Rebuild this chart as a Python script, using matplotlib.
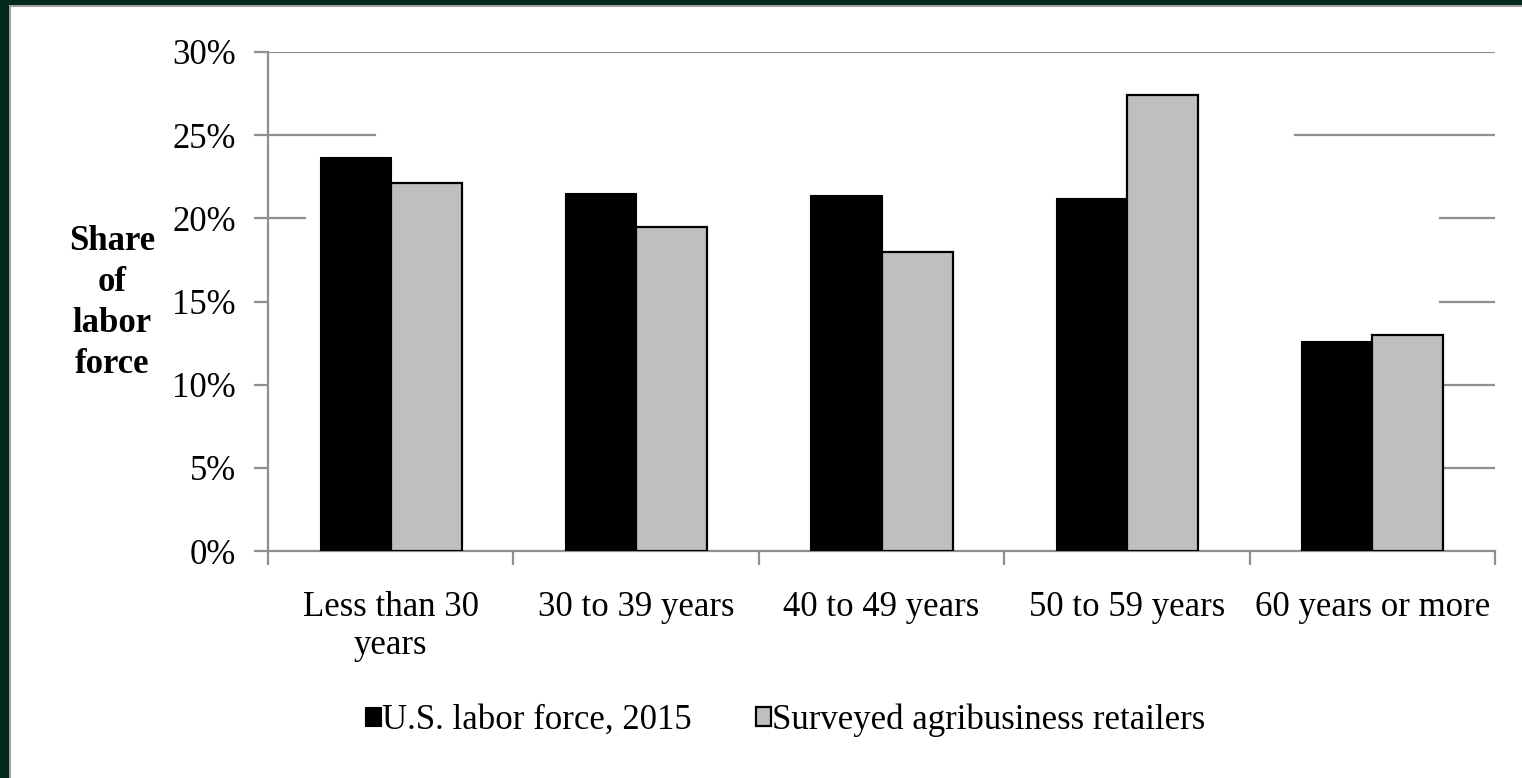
import matplotlib
matplotlib.use("Agg")
import matplotlib.pyplot as plt
from matplotlib.patches import Rectangle
from matplotlib.ticker import PercentFormatter
import numpy as np

# --- data -------------------------------------------------------------
age_groups = ["Less than 30\nyears", "30 to 39 years", "40 to 49 years",
              "50 to 59 years", "60 years or more"]
us_labor_force = [23.7, 21.5, 21.4, 21.2, 12.6]
agri_retailers = [22.1, 19.5, 18.0, 27.4, 13.0]
series_names = ["U.S. labor force, 2015", "Surveyed agribusiness retailers"]
y_ticks = [0, 5, 10, 15, 20, 25, 30]

# --- style ------------------------------------------------------------
plt.rcParams["font.family"] = ["Liberation Serif", "DejaVu Serif"]
FS = 25
AXIS_GREY = "#8f8f8f"
FRAME_GREEN = "#03291d"

fig = plt.figure(figsize=(15.22, 7.78), dpi=100)
fig.patch.set_facecolor("white")

# slide-style frame: dark green band along the top and left edges
fig.patches.append(Rectangle((0, 1 - 5 / 778), 1, 5 / 778, transform=fig.transFigure,
                             facecolor=FRAME_GREEN, edgecolor="none", zorder=0))
fig.patches.append(Rectangle((0, 0), 9 / 1522, 1, transform=fig.transFigure,
                             facecolor=FRAME_GREEN, edgecolor="none", zorder=0))
fig.patches.append(Rectangle((9 / 1522, 0), 2 / 1522, 1 - 5 / 778, transform=fig.transFigure,
                             facecolor="#a0a0a0", edgecolor="none", zorder=0))
fig.patches.append(Rectangle((9 / 1522, 1 - 7 / 778), 1 - 9 / 1522, 2 / 778,
                             transform=fig.transFigure,
                             facecolor="#a0a0a0", edgecolor="none", zorder=0))

ax = fig.add_axes([268 / 1522, 1 - 551 / 778, (1495 - 268) / 1522, (551 - 52) / 778])

x = np.arange(len(age_groups))
w = 0.29
b1 = ax.bar(x - w / 2, us_labor_force, width=w, color="black", edgecolor="black",
            linewidth=0.8, zorder=3, label=series_names[0])
b2 = ax.bar(x + w / 2, agri_retailers, width=w, color="#bfbfbf", edgecolor="black",
            linewidth=1.6, zorder=3, label=series_names[1])

ax.set_xlim(-0.5, len(age_groups) - 0.5)
ax.set_ylim(0, 30)
ax.set_yticks(y_ticks)
ax.yaxis.set_major_formatter(PercentFormatter(decimals=0))

# horizontal gridlines, only partially visible behind the clustered bars
grid_spans = {
    30: [(0.0, 1.0)],
    25: [(0.0, 0.087), (0.837, 1.0)],
    20: [(0.0, 0.030), (0.955, 1.0)],
    15: [(0.955, 1.0)],
    10: [(0.955, 1.0)],
    5: [(0.955, 1.0)],
}
for yv, spans in grid_spans.items():
    for a, b in spans:
        ax.axhline(yv, xmin=a, xmax=b, color=AXIS_GREY, linewidth=1.6, zorder=1)

# category labels centred, tick marks at category boundaries
ax.set_xticks(x)
ax.set_xticklabels(age_groups, fontsize=FS, linespacing=1.2)
ax.set_xticks(np.arange(len(age_groups) + 1) - 0.5, minor=True)
ax.tick_params(axis="x", which="major", length=0, pad=29)
ax.tick_params(axis="x", which="minor", length=10, width=1.6, color=AXIS_GREY,
               direction="out")
ax.tick_params(axis="y", length=10, width=1.6, color=AXIS_GREY, labelsize=FS, pad=13)

for side in ("top", "right"):
    ax.spines[side].set_visible(False)
for side in ("left", "bottom"):
    ax.spines[side].set_color(AXIS_GREY)
    ax.spines[side].set_linewidth(1.6)

fig.text(112 / 1522, 1 - 303 / 778, "Share\nof\nlabor\nforce", fontsize=FS,
         fontweight="bold", ha="center", va="center", linespacing=1.32)

fig.legend(handles=[b1, b2], labels=series_names, loc="center",
           bbox_to_anchor=(0.516, 1 - 720 / 778), ncol=2, frameon=False,
           fontsize=FS, handlelength=0.45, handleheight=0.45, handletextpad=0.02,
           columnspacing=1.85, borderaxespad=0)

fig.savefig("out.png", dpi=100, facecolor=fig.get_facecolor())
